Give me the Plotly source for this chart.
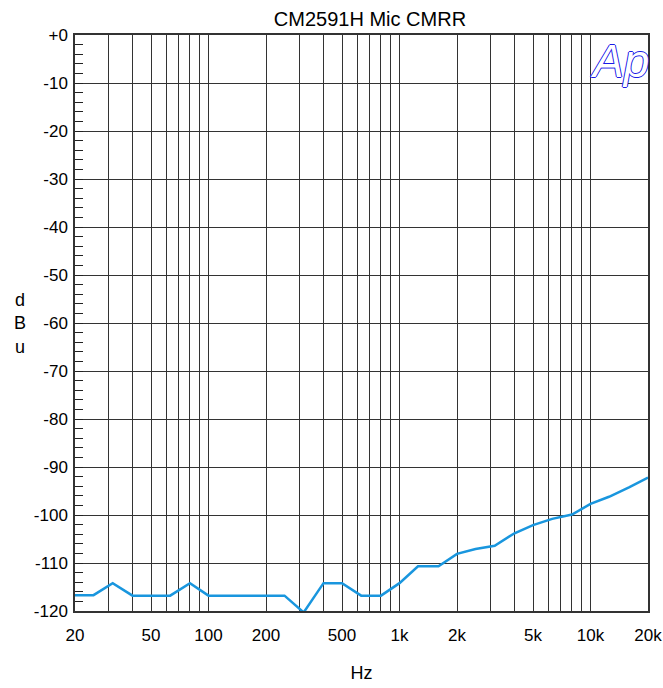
import plotly.graph_objects as go
import math

freq = [20, 25, 31.5, 40, 50, 63, 80, 100, 125, 160, 200, 250, 315, 400, 500,
        630, 800, 1000, 1250, 1600, 2000, 2500, 3150, 4000, 5000, 6300, 8000,
        10000, 12500, 16000, 20000]
dbu = [-116.7, -116.7, -114.2, -116.8, -116.8, -116.8, -114.2, -116.8, -116.8,
       -116.8, -116.8, -116.8, -120.3, -114.2, -114.2, -116.8, -116.8, -114.2,
       -110.7, -110.7, -108.1, -107.1, -106.4, -103.8, -102.1, -100.8, -99.9,
       -97.7, -96.2, -94.2, -92.2]

x_tickvals = [20, 30, 40, 50, 60, 70, 80, 90, 100, 200, 300, 400, 500, 600, 700,
              800, 900, 1000, 2000, 3000, 4000, 5000, 6000, 7000, 8000, 9000,
              10000, 20000]
x_labels = {20: "20", 50: "50", 100: "100", 200: "200", 500: "500", 1000: "1k",
            2000: "2k", 5000: "5k", 10000: "10k", 20000: "20k"}
x_ticktext = [x_labels.get(v, "") for v in x_tickvals]
y_tickvals = list(range(0, -130, -10))
y_ticktext = ["+0"] + [str(v) for v in y_tickvals[1:]]

FONT = "Liberation Sans, Arial, sans-serif"

fig = go.Figure()
fig.add_trace(go.Scatter(x=freq, y=dbu, mode="lines",
                         line=dict(color="#1996de", width=2.5),
                         showlegend=False, hoverinfo="skip"))

fig.update_layout(
    width=663, height=688, autosize=False,
    margin=dict(l=75, r=15, t=35, b=77),
    paper_bgcolor="white", plot_bgcolor="white",
    font=dict(family=FONT, size=17, color="black"),
    title=dict(text="CM2591H Mic CMRR", x=0.558, xanchor="center",
               y=0.972, yanchor="middle", font=dict(family=FONT, size=20)),
    xaxis=dict(type="log", range=[math.log10(20), math.log10(20000)],
               tickvals=x_tickvals, ticktext=x_ticktext, ticks="",
               showgrid=True, gridcolor="#333333", gridwidth=1,
               showline=True, linecolor="#333333", linewidth=1.5, mirror=True,
               zeroline=False, ticklabelstandoff=8, automargin=False,
               title=dict(text="Hz", font=dict(family=FONT, size=18), standoff=22)),
    yaxis=dict(range=[-120, 0], tickvals=y_tickvals, ticktext=y_ticktext,
               ticks="inside", ticklen=8, tickcolor="#222",
               showgrid=True, gridcolor="#333333", gridwidth=1,
               showline=True, linecolor="#333333", linewidth=1.5, mirror=True,
               zeroline=False, ticklabelstandoff=2, automargin=False,
               minor=dict(dtick=2, ticks="inside", ticklen=8, tickcolor="#222",
                          showgrid=False)),
)

fig.add_annotation(text="d<br>B<br>u", xref="paper", yref="paper",
                   x=-0.096, y=0.5, xanchor="center", yanchor="middle",
                   showarrow=False, align="center",
                   font=dict(family=FONT, size=18, color="black"))
fig.add_annotation(text="<i>Ap</i>", xref="paper", yref="paper",
                   x=0.95, y=0.955, xanchor="center", yanchor="middle",
                   showarrow=False,
                   font=dict(family=FONT, size=46, color="white",
                             shadow="1px 0 #1a1ae6, -1px 0 #1a1ae6, 0 1px #1a1ae6, 0 -1px #1a1ae6"))

fig.write_html("out.html",
               config={"displayModeBar": False, "responsive": False},
               post_script="document.body.style.margin='0';document.body.style.overflow='hidden';")
